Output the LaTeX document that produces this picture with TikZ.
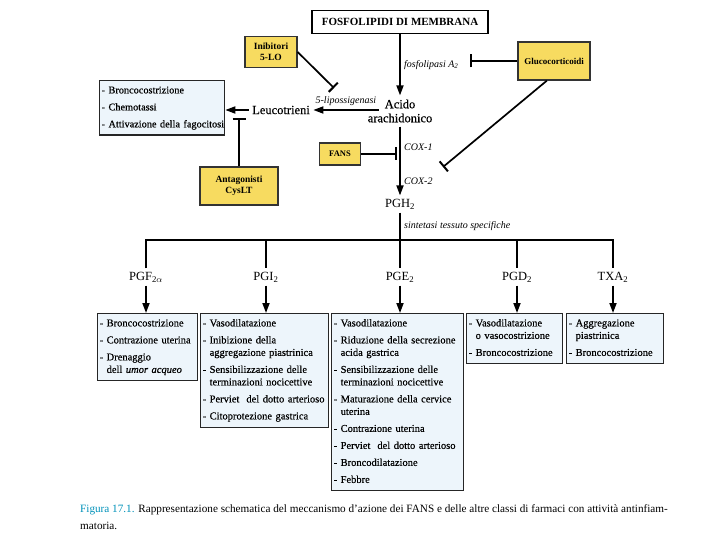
\documentclass[tikz,border=0pt]{standalone}
\usepackage{fontspec}
\setmainfont{Liberation Serif}
\newfontfamily\medio{Liberation Serif}[FakeBold=0.45]
\usetikzlibrary{arrows.meta,positioning}

\definecolor{giallo}{RGB}{247,219,96}
\definecolor{azzurro}{RGB}{237,245,251}
\definecolor{ottanio}{RGB}{0,146,186}

\newcommand{\rientro}{\phantom{-\ }}

\begin{document}
\begin{tikzpicture}[
    x=1pt, y=-1pt, line join=miter,
    freccia/.style={-{Triangle[length=10pt,width=7pt]}, line width=1.7pt},
    blocco/.style={-{Bar[width=13pt,line width=2pt]}, line width=1.7pt},
    tronco/.style={line width=1.7pt},
    farmaco/.style={draw=black!80, fill=giallo, line width=1.3pt, align=center,
        font=\fontsize{9.5}{11}\selectfont\bfseries},
    effetti/.style={draw=black!85, fill=azzurro, line width=1.3pt, anchor=north west,
        inner xsep=2pt, inner ysep=4pt, align=left, font=\medio\fontsize{10.5}{12.5}\selectfont},
    mediatore/.style={font=\fontsize{12.5}{14}\selectfont},
    pesante/.style={font=\medio\fontsize{12.5}{14}\selectfont},
    enzima/.style={font=\fontsize{10}{11}\selectfont\itshape}]

    \fill[white] (0,0) rectangle (720,540);

    % Upper part
    \node[draw, fill=white, line width=1.3pt, minimum width=176pt, minimum height=23pt,
        font=\fontsize{11}{12}\selectfont\bfseries] (fosfo) at (400,22) {FOSFOLIPIDI DI MEMBRANA};
    \node[farmaco, minimum width=52pt, minimum height=31pt] (inib) at (271,52) {Inibitori\\5-LO};
    \node[farmaco, minimum width=72pt, minimum height=38pt,
        font=\fontsize{9}{10.5}\selectfont\bfseries] (gluco) at (554,61) {Glucocorticoidi};
    \node[pesante, align=center, inner sep=4pt] (acido) at (400,111) {Acido\\arachidonico};
    \node[pesante] (leuco) at (281,110) {Leucotrieni};
    \node[effetti, text width=121pt, font=\medio\fontsize{10.3}{12.5}\selectfont] (leucobox) at (99,80)
        {\begin{tabular}{@{}l@{}}
        - Broncocostrizione\\[4.5pt]
        - Chemotassi\\[4.5pt]
        - Attivazione della fagocitosi\end{tabular}};
    \node[farmaco, minimum width=41pt, minimum height=22pt,
        font=\fontsize{8.5}{9}\selectfont\bfseries] (fans) at (340,154) {FANS};
    \node[farmaco, minimum width=78pt, minimum height=38pt] (antag) at (239,186) {Antagonisti\\CysLT};
    \node[mediatore] (pgh) at (400,204) {PGH\textsubscript{2}};

    % Free ends
    \coordinate (stop5lo) at (334,88);
    \coordinate (stoppla) at (470,61);
    \coordinate (stoplt) at (239,118);
    \coordinate (stopcox1) at (397,154);
    \coordinate (stopcox2) at (443,167);
    \coordinate (bar) at (400,240);

    % Upper connectors
    \draw[freccia] (fosfo) -- (acido) node[midway, right, enzima] {fosfolipasi A\textsubscript{2}};
    \draw[blocco] (gluco) -- (stoppla);
    \draw[blocco] (inib.east) -- (stop5lo);
    \draw[freccia] ([xshift=15pt]acido.west |- leuco.east) -- (leuco)
        node[midway, above, enzima] {5-lipossigenasi};
    \draw[freccia] (leuco) -- (leuco -| leucobox.east);
    \draw[blocco] (antag) -- (stoplt);
    \draw[blocco] (fans) -- (stopcox1);
    \draw[blocco] (gluco.250) -- (stopcox2);
    \draw[freccia] (acido) -- (pgh) node[pos=.3, right, enzima] {COX-1}
        node[pos=.8, right, enzima] {COX-2};
    \draw[tronco] (pgh) -- (bar) node[midway, right, enzima] {sintetasi tessuto specifiche};

    % Prostanoids
    \node[mediatore] (pgf) at (146,277) {PGF\textsubscript{2$\alpha$}};
    \node[mediatore] (pgi) at (266,277) {PGI\textsubscript{2}};
    \node[mediatore] (pge) at (400,277) {PGE\textsubscript{2}};
    \node[mediatore] (pgd) at (517,277) {PGD\textsubscript{2}};
    \node[mediatore] (txa) at (613,277) {TXA\textsubscript{2}};

    \node[effetti, text width=96pt] (box-pgf) at (97,313) {\begin{tabular}{@{}l@{}}
        - Broncocostrizione\\[4.5pt]
        - Contrazione uterina\\[4.5pt]
        - Drenaggio\\
        \rientro dell\ \textit{umor acqueo}\end{tabular}};
    \node[effetti, text width=124pt] (box-pgi) at (200,313) {\begin{tabular}{@{}l@{}}
        - Vasodilatazione\\[4.5pt]
        - Inibizione della\\
        \rientro aggregazione piastrinica\\[4.5pt]
        - Sensibilizzazione delle\\
        \rientro terminazioni nocicettive\\[4.5pt]
        - Perviet\ \ del dotto arterioso\\[4.5pt]
        - Citoprotezione gastrica\end{tabular}};
    \node[effetti, text width=128pt] (box-pge) at (331,313) {\begin{tabular}{@{}l@{}}
        - Vasodilatazione\\[4.5pt]
        - Riduzione della secrezione\\
        \rientro acida gastrica\\[4.5pt]
        - Sensibilizzazione delle\\
        \rientro terminazioni nocicettive\\[4.5pt]
        - Maturazione della cervice\\
        \rientro uterina\\[4.5pt]
        - Contrazione uterina\\[4.5pt]
        - Perviet\ \ del dotto arterioso\\[4.5pt]
        - Broncodilatazione\\[4.5pt]
        - Febbre\end{tabular}};
    \node[effetti, text width=92pt] (box-pgd) at (466,313) {\begin{tabular}{@{}l@{}}
        - Vasodilatazione\\
        \rientro o vasocostrizione\\[4.5pt]
        - Broncocostrizione\end{tabular}};
    \node[effetti, text width=93pt] (box-txa) at (566,313) {\begin{tabular}{@{}l@{}}
        - Aggregazione\\
        \rientro piastrinica\\[4.5pt]
        - Broncocostrizione\end{tabular}};

    % Lower connectors
    \draw[tronco] (pgf) |- (bar) -| (txa);
    \foreach \n in {pgi,pge,pgd}
        \draw[tronco] (\n |- bar) -- (\n);
    \foreach \n in {pgf,pgi,pge,pgd,txa}
        \draw[freccia] (\n) -- (\n |- box-\n.north);

    \node[anchor=north west, inner sep=0pt, align=left, font=\fontsize{11.2}{17}\selectfont]
        (didascalia) at (80,504) {\textcolor{ottanio}{Figura 17.1.} Rappresentazione schematica
        del meccanismo d'azione dei FANS e delle altre classi di farmaci con attività antinfiam-\\matoria.};
\end{tikzpicture}
\end{document}
